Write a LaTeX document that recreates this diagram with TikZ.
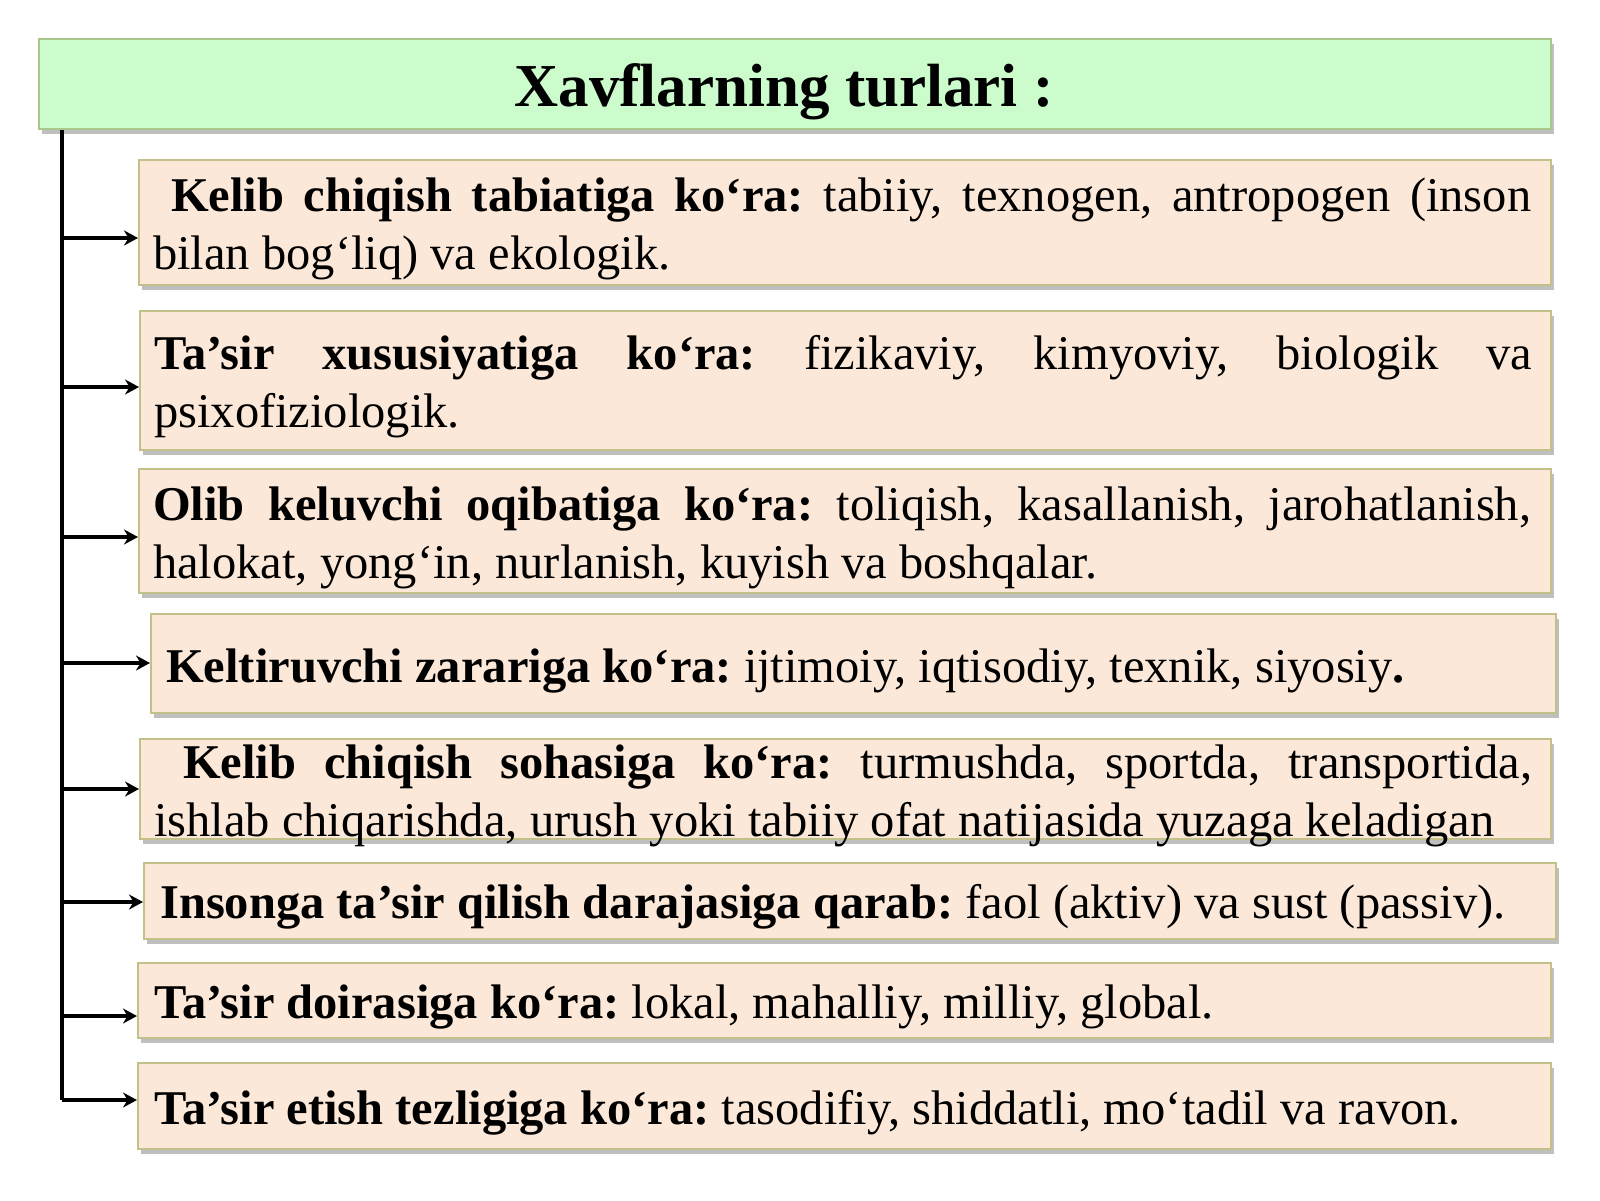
\documentclass[tikz,border=0pt]{standalone}
\usepackage{fontspec}
\setmainfont{Liberation Serif}
\usetikzlibrary{arrows.meta,shadows}
\definecolor{boxfill}{HTML}{FCE8D8}
\definecolor{boxline}{HTML}{C3C08A}
\definecolor{titlefill}{HTML}{CCFCCC}
\definecolor{titleline}{HTML}{A9C98C}
\frenchspacing
\newcommand{\justline}[1]{\makebox[1378pt][s]{#1}}
\tikzset{
  box/.style={draw=boxline, line width=1.5pt, fill=boxfill, anchor=north west, inner sep=0pt,
    drop shadow={shadow xshift=3pt, shadow yshift=-5pt, fill=black!50, opacity=0.5}},
  titlebox/.style={box, draw=titleline, fill=titlefill},
  txt/.style={anchor=base west, inner sep=0pt, font=\frenchspacing\fontsize{48.5}{58}\selectfont, text=black},
  arr/.style={line width=4pt, -{Stealth[length=14pt,width=15pt]}},
  trunk/.style={line width=4pt},
}
\begin{document}
\begin{tikzpicture}[x=1pt,y=-1pt]
\path[use as bounding box, fill=white] (0,0) rectangle (1600,1200);
% title
\node[titlebox, minimum width=1512pt, minimum height=90pt] (title) at (38,38) {};
\node[anchor=base, inner sep=0pt, font=\bfseries\fontsize{61}{70}\selectfont] (titletext) at (784,106) {Xavflarning turlari :};
% boxes
\node[box, minimum width=1412pt, minimum height=125pt] (b1) at (138,159) {};
\node[box, minimum width=1411pt, minimum height=139pt] (b2) at (139,310) {};
\node[box, minimum width=1412pt, minimum height=124pt] (b3) at (138,468) {};
\node[box, minimum width=1405pt, minimum height=99pt]  (b4) at (150,613) {};
\node[box, minimum width=1411pt, minimum height=100pt] (b5) at (139,738) {};
\node[box, minimum width=1412pt, minimum height=76pt]  (b6) at (143,862) {};
\node[box, minimum width=1413pt, minimum height=75pt]  (b7) at (137,962) {};
\node[box, minimum width=1413pt, minimum height=86pt]  (b8) at (137,1062) {};
% texts
\node[txt] (t1) at (153,211) {\parbox[t]{1378pt}{\justline{\hspace*{18pt}\textbf{Kelib chiqish tabiatiga ko‘ra:} tabiiy, texnogen, antropogen (inson}\\bilan bog‘liq) va ekologik.}};
\node[txt] (t2) at (154,369) {\parbox[t]{1378pt}{\justline{\textbf{Ta’sir xususiyatiga ko‘ra:} fizikaviy, kimyoviy, biologik va}\\psixofiziologik.}};
\node[txt] (t3) at (153,520) {\parbox[t]{1378pt}{\justline{\textbf{Olib keluvchi oqibatiga ko‘ra:} toliqish, kasallanish, jarohatlanish,}\\halokat, yong‘in, nurlanish, kuyish va boshqalar.}};
\node[txt] (t4) at (166,682) {\textbf{Keltiruvchi zarariga ko‘ra:} ijtimoiy, iqtisodiy, texnik, siyosiy\textbf{.}};
\node[txt] (t5) at (154,778) {\parbox[t]{1378pt}{\justline{\hspace*{29pt}\textbf{Kelib chiqish sohasiga ko‘ra:} turmushda, sportda, transportida,}\\ishlab chiqarishda, urush yoki tabiiy ofat natijasida yuzaga keladigan}};
\node[txt] (t6) at (160,918) {\textbf{Insonga ta’sir qilish darajasiga qarab:} faol (aktiv) va sust (passiv).};
\node[txt] (t7) at (154,1018) {\textbf{Ta’sir doirasiga ko‘ra:} lokal, mahalliy, milliy, global.};
\node[txt] (t8) at (154,1124) {\textbf{Ta’sir etish tezligiga ko‘ra:} tasodifiy, shiddatli, mo‘tadil va ravon.};
% connectors
\coordinate (s1) at (62,238);
\coordinate (s2) at (62,387);
\coordinate (s3) at (62,537);
\coordinate (s4) at (62,663);
\coordinate (s5) at (62,789);
\coordinate (s6) at (62,902);
\coordinate (s7) at (62,1016);
\coordinate (s8) at (62,1100);
\draw[trunk] (s1 |- title.south) -- (s8);
\foreach \i in {1,...,8}{
  \draw[arr] (s\i) -- (s\i -| b\i.west);
}
\end{tikzpicture}
\end{document}
